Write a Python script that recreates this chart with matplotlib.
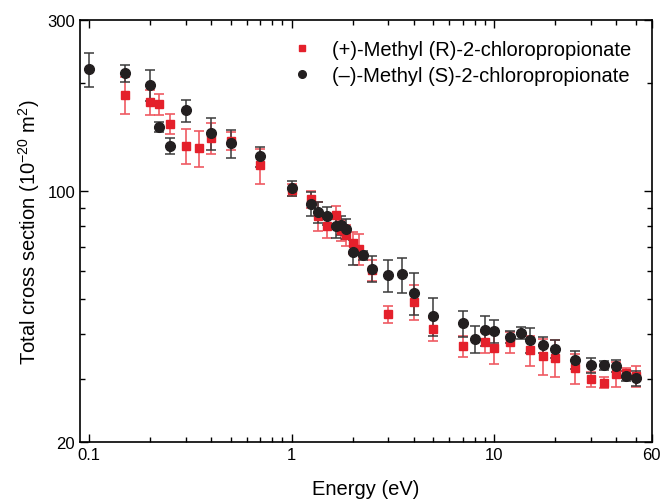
import numpy as np
import matplotlib.pyplot as plt
from matplotlib.lines import Line2D
from matplotlib.ticker import FixedLocator, NullFormatter

# (+)-Methyl (R)-2-chloropropionate
energy_r = [0.15, 0.2, 0.22, 0.25, 0.3, 0.35, 0.4, 0.5, 0.7,
            1.0, 1.25, 1.35, 1.5, 1.65, 1.75, 1.85, 2.0, 2.15, 2.5, 3.0, 4.0, 5.0,
            7.0, 9.0, 10.0, 12.0, 15.0, 17.5, 20.0, 25.0, 30.0, 35.0, 40.0, 45.0, 50.0]
sigma_r = [186, 177, 175, 154, 134, 132, 141, 138, 118,
           101, 95, 85.4, 79.9, 85.7, 77.9, 75.4, 71.8, 69.2, 60.3, 45.4, 49.2, 41.2,
           37.0, 38.0, 36.5, 38.0, 36.0, 34.7, 34.4, 32.1, 29.9, 29.3, 30.9, 31.1, 30.5]
err_r = [22, 14, 12, 10, 15, 15, 14, 8, 13,
         4, 5, 8, 6, 5, 5, 5, 5, 7, 4, 2.5, 5.5, 3,
         2.5, 2.5, 3.5, 2.5, 3.5, 4, 4, 3, 1.5, 1, 2.5, 1, 2]

# (-)-Methyl (S)-2-chloropropionate
energy_s = [0.1, 0.15, 0.2, 0.22, 0.25, 0.3, 0.4, 0.5, 0.7,
            1.0, 1.25, 1.35, 1.5, 1.65, 1.75, 1.85, 2.0, 2.25, 2.5, 3.0, 3.5, 4.0, 5.0,
            7.0, 8.0, 9.0, 10.0, 12.0, 13.5, 15.0, 17.5, 20.0, 25.0, 30.0, 35.0, 40.0, 45.0, 50.0]
sigma_s = [219, 213, 198, 151, 134, 168, 145, 136, 125,
           102, 92.4, 87.6, 85.4, 80.0, 80.4, 78.7, 67.8, 66.3, 60.9, 58.3, 58.7, 52.1, 45.0,
           42.8, 38.7, 41.0, 40.8, 39.3, 40.3, 38.5, 37.3, 36.4, 33.9, 32.7, 32.7, 32.6, 30.5, 30.1]
err_s = [24, 12, 20, 4.5, 7, 12, 15, 12, 8,
         5, 7, 6, 5, 6, 5, 5, 5.5, 2, 5, 6, 6.5, 7, 5.5,
         3.5, 3.3, 4, 3, 1.5, 1.5, 3, 2, 2, 2, 1.5, 1, 1.2, 1, 1.5]

labels = ['(+)-Methyl (R)-2-chloropropionate', '(\u2013)-Methyl (S)-2-chloropropionate']

red = '#e4202b'
black = '#231f20'

plt.rcParams['font.family'] = ['Liberation Sans', 'DejaVu Sans']
plt.rcParams['mathtext.fontset'] = 'custom'
plt.rcParams['mathtext.rm'] = 'Liberation Sans'

fig = plt.figure(figsize=(6.61, 5.02), dpi=100)
ax = fig.add_axes([0.121, 0.1175, 0.865, 0.8405])

ax.errorbar(energy_r, sigma_r, yerr=err_r, fmt='s', color=red, ms=6,
            ecolor='#ef5a62', elinewidth=1.2, capsize=3.5, capthick=1.2)
ax.errorbar(energy_s, sigma_s, yerr=err_s, fmt='o', color=black, ms=7,
            ecolor='#3a3a3a', elinewidth=1.1, capsize=3.5, capthick=1.1)

ax.set_xscale('log')
ax.set_yscale('log')
ax.set_xlim(0.09, 60)
ax.set_ylim(20, 300)

ax.xaxis.set_major_locator(FixedLocator([0.1, 1, 10, 60]))
ax.set_xticklabels(['0.1', '1', '10', '60'])
ax.xaxis.set_minor_locator(FixedLocator([0.2, 0.3, 0.4, 0.5, 0.6, 0.7, 0.8, 0.9,
                                         2, 3, 4, 5, 6, 7, 8, 9, 20, 30, 40, 50]))
ax.xaxis.set_minor_formatter(NullFormatter())
ax.yaxis.set_major_locator(FixedLocator([20, 100, 300]))
ax.set_yticklabels(['20', '100', '300'])
ax.yaxis.set_minor_locator(FixedLocator([30, 40, 50, 60, 70, 80, 90, 200]))
ax.yaxis.set_minor_formatter(NullFormatter())

ax.tick_params(which='both', direction='in', top=True, right=True, labelsize=12)
ax.tick_params(which='major', length=6, width=1)
ax.tick_params(which='minor', length=3.5, width=1)
for s in ax.spines.values():
    s.set_linewidth(1.2)

ax.set_xlabel('Energy (eV)', fontsize=14.5, labelpad=12)
ax.set_ylabel('Total cross section (10$^{\\mathregular{-20}}$ m$^{\\mathregular{2}}$)',
              fontsize=14.5, labelpad=4)

handles = [Line2D([], [], ls='none', marker='s', color=red, ms=5),
           Line2D([], [], ls='none', marker='o', color=black, ms=5.5)]
ax.legend(handles, labels, loc='upper right', frameon=False, fontsize=14.5,
          handletextpad=0.9, handlelength=1.2, borderaxespad=0.6, labelspacing=0.35)

fig.savefig('out.png', dpi=100)
